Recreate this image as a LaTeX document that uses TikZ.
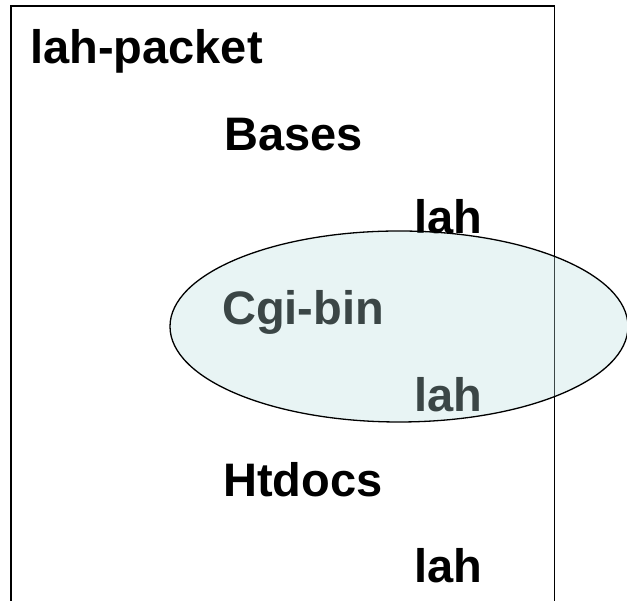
\documentclass[tikz,border=0pt]{standalone}
\usepackage{fontspec}
\usetikzlibrary{shapes.geometric}
\setmainfont{Liberation Sans}
\definecolor{ellfill}{RGB}{185,220,220}
\begin{document}
\begin{tikzpicture}[x=1pt,y=1pt,
  lbl/.style={anchor=base west,inner sep=0pt,font=\fontsize{47}{52}\selectfont\bfseries},
  frame/.style={draw=black,line width=1.6pt},
  oval/.style={shape=ellipse,draw=black,line width=1.3pt,fill=ellfill,fill opacity=0.32,draw opacity=1,minimum width=458pt,minimum height=191pt,inner sep=0pt}]
\useasboundingbox (0,0) rectangle (627,601);
\draw[frame] (10.7,-5) -- (10.7,595) -- (554.3,595) -- (554.3,-5);
\node[lbl] (pk) at (30,537) {lah-packet};
\node[lbl] (bs) at (224,450) {Bases};
\node[lbl] (l1) at (414,367) {lah};
\node[lbl] (cg) at (222,276) {Cgi-bin};
\node[lbl] (l2) at (414,189) {lah};
\node[lbl] (ht) at (223,104) {Htdocs};
\node[lbl] (l3) at (414,18) {lah};
\node[oval] (cgi) at (399,274.5) {};
\end{tikzpicture}
\end{document}
